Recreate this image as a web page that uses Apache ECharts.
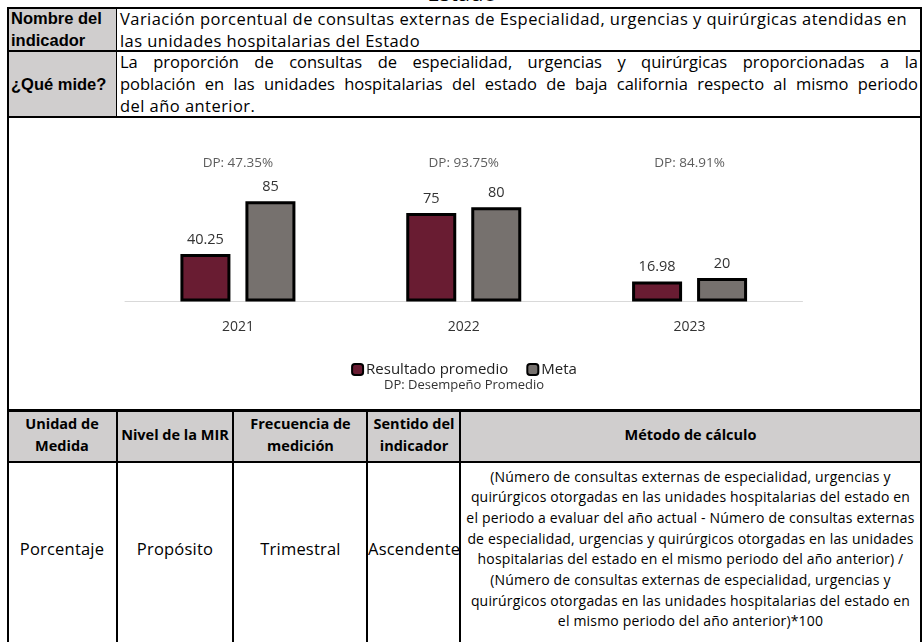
<!DOCTYPE html>
<html>
<head>
<meta charset="utf-8">
<script src="https://cdn.jsdelivr.net/npm/echarts@6/dist/echarts.min.js"></script>
<style>
  html, body { margin: 0; padding: 0; background: #fff; overflow: hidden; }
  body { width: 924px; height: 642px; position: relative; font-family: "Open Sans", sans-serif; color: #000; }
  .abs { position: absolute; }
  .gray { position: absolute; background: #d0cece; }
  .hl { position: absolute; background: #000; height: 2px; }
  .vl { position: absolute; background: #000; width: 2px; }
  .lbl { font-family: "Liberation Sans Narrow", "Liberation Sans", sans-serif; font-weight: bold; font-size: 16.5px; }
  .txt { font-size: 16.5px; letter-spacing: 0.45px; white-space: nowrap; }
  .just { text-align: justify; text-align-last: justify; }
  .th { font-weight: bold; font-size: 14.5px; text-align: center; line-height: 22px; }
  .td { font-size: 16.5px; letter-spacing: 0.2px; text-align: center; line-height: 20px; white-space: nowrap; }
  .met { font-size: 14px; letter-spacing: 0.18px; text-align: center; line-height: 20.7px; white-space: nowrap; }
  #chart { position: absolute; left: 8px; top: 117px; width: 912px; height: 292px; }
</style>
</head>
<body>
<div class="abs" style="left:0;width:924px;top:-19px;font-size:22px;line-height:22px;text-align:center;">Estado</div>

<!-- fondos grises -->
<div class="gray" style="left:8px;top:8px;width:108px;height:109px;"></div>
<div class="gray" style="left:8px;top:411px;width:913px;height:51px;"></div>

<div id="chart"></div>

<!-- fila 1 y 2 -->
<div class="abs lbl" style="left:11px;top:8px;line-height:21.5px;">Nombre del<br>indicador</div>
<div class="abs txt" style="left:120px;top:8px;line-height:21.5px;">Variación porcentual de consultas externas de Especialidad, urgencias y quirúrgicas atendidas en<br>las unidades hospitalarias del Estado</div>
<div class="abs lbl" style="left:11px;top:51px;line-height:66px;">¿Qué mide?</div>
<div class="abs txt" style="left:120px;top:51px;width:798px;line-height:22px;letter-spacing:0;">
  <div class="just">La proporción de consultas de especialidad, urgencias y quirúrgicas proporcionadas a la</div>
  <div class="just">población en las unidades hospitalarias del estado de baja california respecto al mismo periodo</div>
  <div style="letter-spacing:0.45px;">del año anterior.</div>
</div>

<!-- tabla inferior -->
<div class="abs th" style="left:8px;top:413px;width:108px;">Unidad de<br>Medida</div>
<div class="abs th" style="left:117px;top:413px;width:116px;line-height:44px;">Nivel de la MIR</div>
<div class="abs th" style="left:234px;top:413px;width:133px;">Frecuencia de<br>medición</div>
<div class="abs th" style="left:368px;top:413px;width:92px;">Sentido del<br>indicador</div>
<div class="abs th" style="left:461px;top:413px;width:459px;line-height:44px;">Método de cálculo</div>

<div class="abs td" style="left:8px;top:539px;width:108px;">Porcentaje</div>
<div class="abs td" style="left:117px;top:539px;width:116px;">Propósito</div>
<div class="abs td" style="left:234px;top:539px;width:133px;">Trimestral</div>
<div class="abs td" style="left:368px;top:539px;width:92px;">Ascendente</div>
<div class="abs met" style="left:461px;top:466.5px;width:459px;">(Número de consultas externas de especialidad, urgencias y<br>quirúrgicos otorgadas en las unidades hospitalarias del estado en<br>el periodo a evaluar del año actual - Número de consultas externas<br>de especialidad, urgencias y quirúrgicos otorgadas en las unidades<br>hospitalarias del estado en el mismo periodo del año anterior) /<br>(Número de consultas externas de especialidad, urgencias y<br>quirúrgicos otorgadas en las unidades hospitalarias del estado en<br>el mismo periodo del año anterior)*100</div>

<!-- líneas -->
<div class="hl" style="left:7px;top:7px;width:915px;"></div>
<div class="hl" style="left:7px;top:50px;width:915px;"></div>
<div class="hl" style="left:7px;top:116px;width:915px;"></div>
<div class="hl" style="left:7px;top:409px;width:915px;height:3px;"></div>
<div class="hl" style="left:7px;top:461px;width:915px;"></div>
<div class="vl" style="left:7px;top:7px;height:640px;width:1.5px;"></div>
<div class="vl" style="left:920px;top:7px;height:640px;"></div>
<div class="vl" style="left:116px;top:8px;height:109px;width:1px;"></div>
<div class="vl" style="left:116px;top:410px;height:240px;width:1.5px;"></div>
<div class="vl" style="left:232px;top:410px;height:240px;width:1.5px;"></div>
<div class="vl" style="left:366px;top:410px;height:240px;width:1.5px;"></div>
<div class="vl" style="left:459px;top:410px;height:240px;width:1.5px;"></div>

<script>
// datos
const anios = ['2021', '2022', '2023'];
const resultadoPromedio = [40.25, 75, 16.98];
const meta = [85, 80, 20];
const desempeno = ['DP: 47.35%', 'DP: 93.75%', 'DP: 84.91%'];

const NIVEL_DP = 117; // altura donde van las etiquetas DP
const fuente = '"Open Sans", sans-serif';

const chart = echarts.init(document.getElementById('chart'));

const etiqueta = {
  show: true,
  position: 'top',
  distance: 7,
  formatter: '{c}',
  fontFamily: fuente,
  fontSize: 14.5,
  color: '#333'
};

const option = {
  animation: false,
  textStyle: { fontFamily: fuente },
  title: {
    text: 'DP: Desempeño Promedio',
    left: 'center',
    top: 262,
    padding: 0,
    textStyle: { fontSize: 13, fontWeight: 'normal', color: '#333', fontFamily: fuente }
  },
  legend: {
    data: ['Resultado promedio', 'Meta'],
    left: 'center',
    top: 240,
    icon: 'roundRect',
    itemWidth: 11,
    itemHeight: 11,
    itemGap: 18,
    itemStyle: { borderColor: '#000', borderWidth: 2 },
    textStyle: { fontSize: 15, color: '#222', fontFamily: fuente, padding: [0, 0, 0, -2] }
  },
  grid: { left: 117, right: 117.5, top: 43, bottom: 107.5 },
  xAxis: {
    type: 'category',
    data: anios,
    axisLine: { lineStyle: { color: '#d9d9d9', width: 1 } },
    axisTick: { show: false },
    axisLabel: { margin: 19, fontSize: 14, color: '#333', fontFamily: fuente }
  },
  yAxis: {
    type: 'value',
    min: 0,
    max: 120,
    show: false,
    splitLine: { show: false }
  },
  series: [
    {
      name: 'Resultado promedio',
      type: 'bar',
      barWidth: 50,
      barGap: '30%',
      itemStyle: { color: '#691c32', borderColor: '#000', borderWidth: 3 },
      label: etiqueta,
      data: resultadoPromedio
    },
    {
      name: 'Meta',
      type: 'bar',
      barWidth: 50,
      barGap: '30%',
      itemStyle: { color: '#76716e', borderColor: '#000', borderWidth: 3 },
      label: etiqueta,
      data: meta
    },
    {
      name: 'DP',
      type: 'scatter',
      symbolSize: 0,
      silent: true,
      label: {
        show: true,
        position: 'inside',
        formatter: function (p) { return desempeno[p.dataIndex]; },
        fontFamily: fuente,
        fontSize: 13.5,
        color: '#333'
      },
      data: desempeno.map(function () { return NIVEL_DP; })
    }
  ]
};

chart.setOption(option);
</script>
</body>
</html>
